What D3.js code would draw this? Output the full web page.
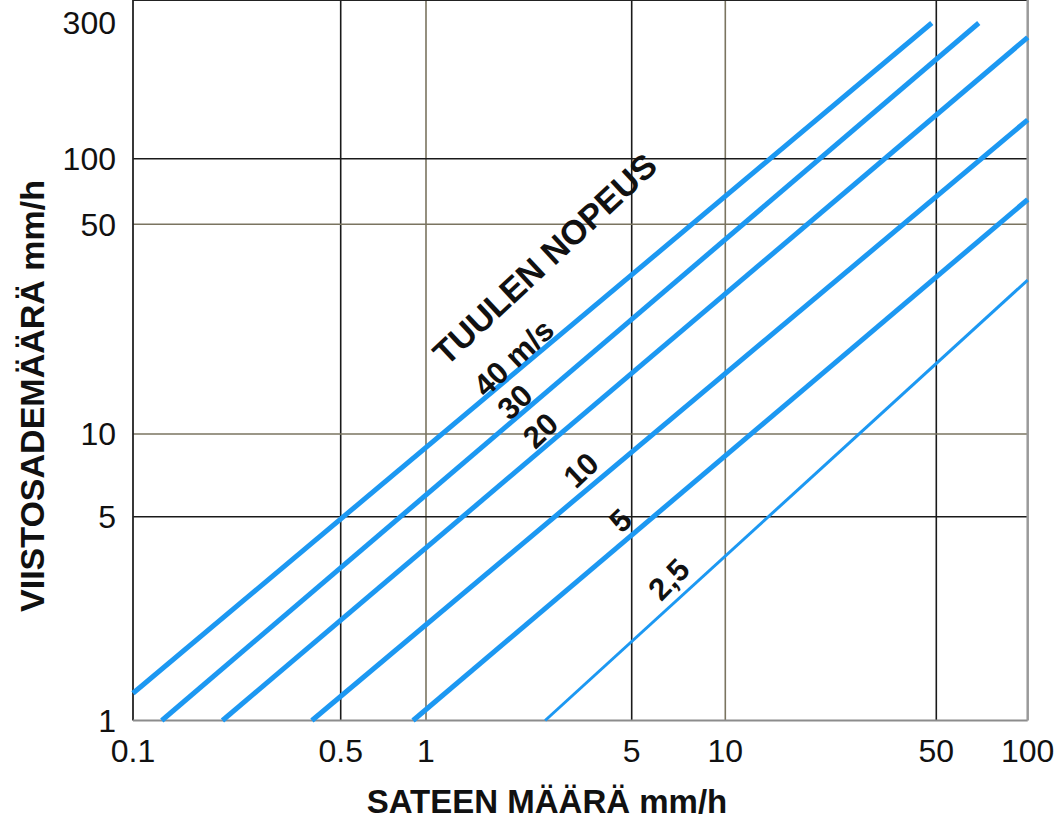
<!DOCTYPE html>
<html>
<head>
<meta charset="utf-8">
<script src="https://cdn.jsdelivr.net/npm/d3@7"></script>
<style>
  body { margin: 0; background: #fff; }
  text { font-family: Arial, "Liberation Sans", sans-serif; fill: #111; }
</style>
</head>
<body>
<div id="chart"></div>
<script>
// tick values on both log axes
var xTicks = [0.1, 0.5, 1, 5, 10, 50, 100]
var yTicks = [1, 5, 10, 50, 100, 300]

// wind speed curves: start and end points (rain mm/h, slanting rain mm/h)
var speeds = ['40 m/s', '30', '20', '10', '5', '2,5']
var rainStart = [0.1, 0.125, 0.2, 0.4, 0.9, 2.54]
var slantStart = [1.24, 1, 1, 1, 1, 1]
var rainEnd = [48.3, 69, 100, 100, 100, 100]
var slantEnd = [300, 300, 267, 137, 65, 32.6]
// where along each curve its label sits (rain mm/h)
var labelRain = [2.12, 2.15, 2.66, 3.72, 5.05, 7.35]
var titleRain = 3.64

var width = 1061, height = 820

// the printed grid is not evenly spaced, so the log scales are piecewise
var xStops = [133, 340.7, 426, 631.7, 725.3, 936.3, 1027.7]
var yStops = [720.5, 516.7, 434, 224.3, 158.7, 23]

var x = d3.scaleLog().domain(xTicks).range(xStops)
var y = d3.scaleLog().domain(yTicks).range(yStops)

var svg = d3.select('#chart')
    .append('svg')
    .attr('width', width)
    .attr('height', height)

var left = x(0.1), right = x(100), top = y(300), bottom = y(1)

svg.append('rect')
    .attr('x', left)
    .attr('y', top)
    .attr('width', right - left)
    .attr('height', bottom - top)
    .attr('fill', '#fffccb')

// grid: the 5-lines and 100 are printed darker than the rest
var darkX = [0.5, 5, 50]
var darkY = [5, 100]

svg.selectAll('.vgrid')
    .data(xTicks.filter(d => d > 0.1 && d < 100))
    .enter()
    .append('line')
    .attr('class', 'vgrid')
    .attr('x1', d => x(d)).attr('x2', d => x(d))
    .attr('y1', top).attr('y2', bottom)
    .attr('stroke', d => darkX.includes(d) ? '#1a1a1a' : '#7a7460')
    .attr('stroke-width', 1.6)

svg.selectAll('.hgrid')
    .data(yTicks.filter(d => d > 1 && d < 300))
    .enter()
    .append('line')
    .attr('class', 'hgrid')
    .attr('y1', d => y(d)).attr('y2', d => y(d))
    .attr('x1', left).attr('x2', right)
    .attr('stroke', d => darkY.includes(d) ? '#1a1a1a' : '#7a7460')
    .attr('stroke-width', 1.6)

// frame
svg.append('line').attr('x1', left).attr('x2', right).attr('y1', top).attr('y2', top)
    .attr('stroke', '#222').attr('stroke-width', 1.8)
svg.append('line').attr('x1', left).attr('x2', left).attr('y1', top).attr('y2', bottom)
    .attr('stroke', '#222').attr('stroke-width', 1.8)
svg.append('line').attr('x1', left).attr('x2', right).attr('y1', bottom).attr('y2', bottom)
    .attr('stroke', '#8c8c8c').attr('stroke-width', 2)
svg.append('line').attr('x1', right).attr('x2', right).attr('y1', top).attr('y2', bottom)
    .attr('stroke', '#9a9a9a').attr('stroke-width', 2.5)

// speed curves
var curves = speeds.map((s, i) => ({
    name: s,
    pts: [[rainStart[i], slantStart[i]], [rainEnd[i], slantEnd[i]]]
}))

var line = d3.line()
    .x(d => x(d[0]))
    .y(d => y(d[1]))

svg.selectAll('.curve')
    .data(curves)
    .enter()
    .append('path')
    .attr('class', 'curve')
    .attr('d', d => line(d.pts))
    .attr('fill', 'none')
    .attr('stroke', '#1c98f2')
    .attr('stroke-width', d => d.name === '2,5' ? 3 : 5)

// labels placed along each curve, pushed off it a little
var offsets = [12.5, 13, 15.5, 19, 18.5, 21]

function along(curve, rain, off) {
    var x1 = x(curve.pts[0][0]), y1 = y(curve.pts[0][1])
    var x2 = x(curve.pts[1][0]), y2 = y(curve.pts[1][1])
    var px = x(rain)
    var py = y1 + (y2 - y1) * (px - x1) / (x2 - x1)
    var ang = Math.atan2(y2 - y1, x2 - x1) * 180 / Math.PI - 3
    return `translate(${px},${py}) rotate(${ang}) translate(0,${-off})`
}

svg.selectAll('.speed-label')
    .data(curves)
    .enter()
    .append('text')
    .attr('class', 'speed-label')
    .attr('transform', (d, i) => along(d, labelRain[i], offsets[i]))
    .attr('text-anchor', 'middle')
    .attr('dy', '0.35em')
    .style('font-size', '31px')
    .style('font-weight', 'bold')
    .text(d => d.name)

svg.append('text')
    .attr('transform', along(curves[0], titleRain, 68))
    .attr('text-anchor', 'middle')
    .attr('dy', '0.35em')
    .style('font-size', '34px')
    .style('font-weight', 'bold')
    .text('TUULEN NOPEUS')

// tick labels
svg.selectAll('.xlab')
    .data(xTicks)
    .enter()
    .append('text')
    .attr('class', 'xlab')
    .attr('x', d => x(d))
    .attr('y', 762)
    .attr('text-anchor', 'middle')
    .style('font-size', '32px')
    .text(d => d)

svg.selectAll('.ylab')
    .data(yTicks)
    .enter()
    .append('text')
    .attr('class', 'ylab')
    .attr('x', 116)
    .attr('y', d => y(d))
    .attr('dy', '0.35em')
    .attr('text-anchor', 'end')
    .style('font-size', '32px')
    .text(d => d)

// axis titles
svg.append('text')
    .attr('x', 547)
    .attr('y', 813)
    .attr('text-anchor', 'middle')
    .style('font-size', '33px')
    .style('font-weight', 'bold')
    .text('SATEEN MÄÄRÄ mm/h')

svg.append('text')
    .attr('transform', 'translate(44,396) rotate(-90)')
    .attr('text-anchor', 'middle')
    .style('font-size', '34px')
    .style('font-weight', 'bold')
    .text('VIISTOSADEMÄÄRÄ mm/h')
</script>
</body>
</html>
